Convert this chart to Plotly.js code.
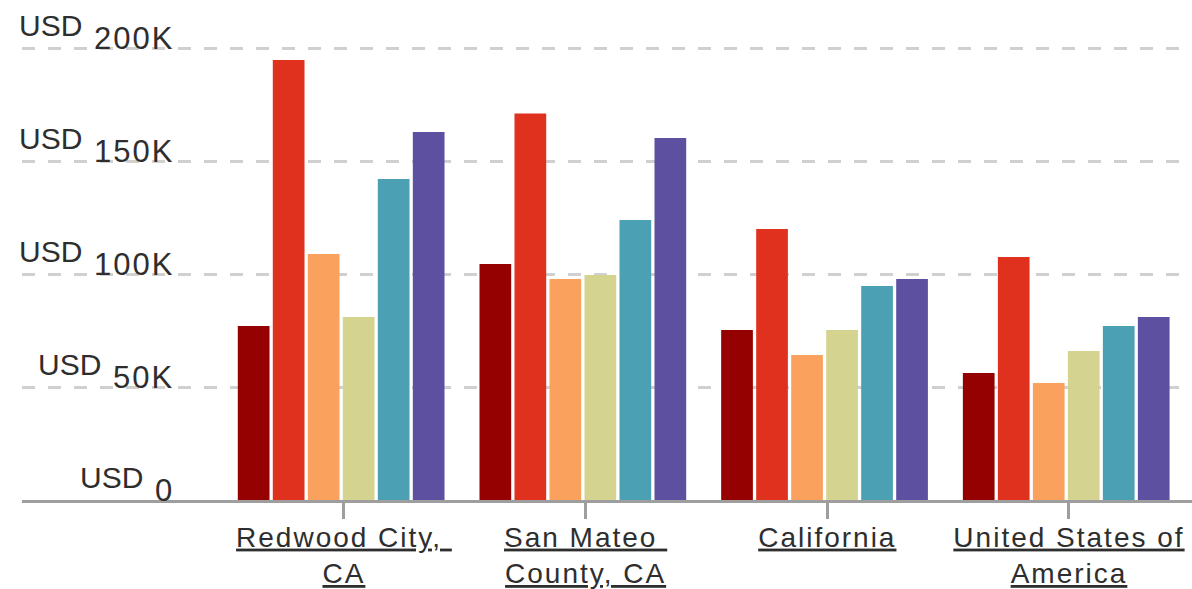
<!DOCTYPE html>
<html>
<head>
<meta charset="utf-8">
<script src="https://cdn.plot.ly/plotly-3.0.1.min.js"></script>
<style>
  html, body { margin: 0; padding: 0; background: #fff; }
  #chart { width: 1192px; height: 589px; }
  .xtick text { letter-spacing: 2px; }
</style>
</head>
<body>
<div id="chart"></div>
<script>
// ---- data ----
const categories = ["Redwood City, CA", "San Mateo County, CA", "California", "United States of America"];
const tickLabels = ["Redwood City,&nbsp;<br>CA", "San Mateo&nbsp;<br>County, CA", "California", "United States of<br>America"];
const seriesNames = ["Series 1", "Series 2", "Series 3", "Series 4", "Series 5", "Series 6"];
const series1 = [77000, 104400, 75200, 56200];
const series2 = [194700, 171000, 119900, 107500];
const series3 = [108800, 97800, 64200, 51800];
const series4 = [81000, 99600, 75200, 65900];
const series5 = [142000, 123900, 94700, 77000];
const series6 = [162800, 160200, 97800, 81000];
const yTickValues = [0, 50000, 100000, 150000, 200000];
const yTickLabels = ["0", "50K", "100K", "150K", "200K"];
const yPrefix = "USD";

// ---- style ----
const colors = ["#950000", "#E0311E", "#FBA15E", "#D5D390", "#4BA0B4", "#5D50A1"];
const allSeries = [series1, series2, series3, series4, series5, series6];
const W = 1192, H = 589, ML = 22, MR = 0, MT = 0, MB = 89;
const plotW = W - ML - MR;
const font = "Arial, 'Liberation Sans', sans-serif";
const textColor = "#2e2e2e";

// bar geometry in category units
const groupW = 0.8566, slotW = 0.14483, barW = 0.1312, groupShift = -0.0108;

const traces = allSeries.map((vals, i) => ({
  type: "bar",
  name: seriesNames[i],
  x: categories,
  y: vals,
  width: barW,
  offset: -groupW / 2 + groupShift + i * slotW,
  marker: { color: colors[i], line: { width: 0 } },
  hoverinfo: "x+y+name"
}));

// measure label widths to place the "USD" prefix
const cv = document.createElement("canvas").getContext("2d");
const labelSize = 31;
const numSpacing = 2;
cv.font = labelSize + "px Arial, 'Liberation Sans', sans-serif";

const numRightPx = 176;
const annotations = [];
yTickValues.forEach((v, i) => {
  const lbl = yTickLabels[i];
  const wNum = cv.measureText(lbl).width + numSpacing * (lbl.length - 1);
  annotations.push({
    xref: "paper", yref: "y",
    x: (numRightPx - ML) / plotW, y: v,
    xanchor: "right", yanchor: "middle", yshift: 10,
    text: '<span style="letter-spacing:' + numSpacing + 'px">' + lbl + '</span>', showarrow: false,
    font: { family: font, size: labelSize, color: textColor }
  });
  annotations.push({
    xref: "paper", yref: "y",
    x: (numRightPx - wNum - 14 - ML) / plotW, y: v,
    xanchor: "right", yanchor: "middle", yshift: 23,
    text: yPrefix, showarrow: false,
    font: { family: font, size: 30, color: textColor }
  });
});

const layout = {
  width: W, height: H,
  margin: { l: ML, r: MR, t: MT, b: MB, pad: 0 },
  paper_bgcolor: "#ffffff",
  plot_bgcolor: "#ffffff",
  showlegend: false,
  barmode: "overlay",
  xaxis: {
    type: "category",
    range: [-1.332, 3.509],
    tickmode: "array",
    tickvals: categories,
    ticktext: tickLabels,
    ticks: "outside",
    ticklen: 16,
    tickwidth: 3,
    tickcolor: "#9e9e9e",
    ticklabelstandoff: -6,
    showline: true,
    linecolor: "#9e9e9e",
    linewidth: 3,
    showgrid: false,
    zeroline: false,
    automargin: false,
    tickfont: { family: font, size: 28, color: textColor, lineposition: "under" },
    fixedrange: true
  },
  yaxis: {
    range: [0, 221240],
    tickvals: yTickValues,
    showticklabels: false,
    ticks: "",
    showline: false,
    zeroline: false,
    showgrid: true,
    gridcolor: "#d0d0d0",
    gridwidth: 3,
    griddash: "13px,13px",
    automargin: false,
    fixedrange: true
  },
  annotations: annotations
};

Plotly.newPlot("chart", traces, layout, { displayModeBar: false, staticPlot: true });
</script>
</body>
</html>
